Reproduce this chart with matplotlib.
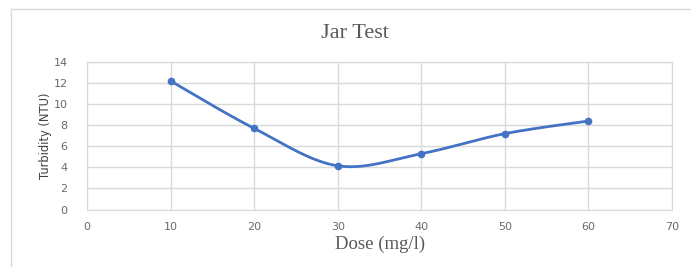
import numpy as np
import matplotlib
matplotlib.use("Agg")
import matplotlib.pyplot as plt
from matplotlib.lines import Line2D

dose = [10, 20, 30, 40, 50, 60]
turbidity = [12.2, 7.7, 4.15, 5.3, 7.2, 8.4]
x_ticks = [0, 10, 20, 30, 40, 50, 60, 70]
y_ticks = [0, 2, 4, 6, 8, 10, 12, 14]

def catmull_rom(xs, ys, n=40):
    P = np.column_stack([xs, ys]).astype(float)
    P = np.vstack([P[0], P, P[-1]])
    out = []
    t = np.linspace(0, 1, n)[:, None]
    for i in range(1, len(P) - 2):
        p0, p1, p2, p3 = P[i - 1], P[i], P[i + 1], P[i + 2]
        c1 = p1 + (p2 - p0) / 6
        c2 = p2 - (p3 - p1) / 6
        seg = ((1 - t) ** 3) * p1 + 3 * ((1 - t) ** 2) * t * c1 + 3 * (1 - t) * t ** 2 * c2 + t ** 3 * p2
        out.append(seg if i == 1 else seg[1:])
    c = np.vstack(out)
    return c[:, 0], c[:, 1]

W, H = 691, 267
fig = plt.figure(figsize=(W / 100, H / 100), dpi=100)
fig.patch.set_facecolor("white")

# chart frame (left and top edges visible)
fx = 10.5 / W
fy = 1 - 8.5 / H
fig.lines.append(Line2D([fx, fx], [0, fy], transform=fig.transFigure, color="#d9d9d9", linewidth=1.0))
fig.lines.append(Line2D([fx, 1], [fy, fy], transform=fig.transFigure, color="#d9d9d9", linewidth=1.0))

ax = fig.add_axes([87 / W, 1 - 209.5 / H, (672 - 87) / W, (209.5 - 62) / H])
ax.set_xlim(0, 70)
ax.set_ylim(0, 14)
ax.set_xticks(x_ticks)
ax.set_yticks(y_ticks)
ax.grid(True, color="#d9d9d9", linewidth=1.0)
ax.set_axisbelow(True)
for s in ax.spines.values():
    s.set_color("#d9d9d9")
ax.tick_params(axis="y", length=0, labelsize=8, labelcolor="#6a6a6a", pad=14)
ax.tick_params(axis="x", length=0, labelsize=8, labelcolor="#6a6a6a", pad=9)

sx, sy = catmull_rom(dose, turbidity)
ax.plot(sx, sy, color="#4472C4", linewidth=2.0, solid_capstyle="round")
ax.plot(dose, turbidity, linestyle="none", marker="o", markersize=4.5, color="#4472C4")

fig.text(355 / W, 1 - 33 / H, "Jar Test", ha="center", va="center",
         family="Liberation Serif", fontsize=16, color="#595959")
fig.text(380 / W, 1 - 244 / H, "Dose (mg/l)", ha="center", va="center",
         family="Liberation Serif", fontsize=13.5, color="#595959")
fig.text(45 / W, 1 - 136 / H, "Turbidity (NTU)", ha="center", va="center", rotation=90,
         family="DejaVu Sans", fontsize=8.3, color="#404040")

fig.savefig("out.png", dpi=100, facecolor="white")
